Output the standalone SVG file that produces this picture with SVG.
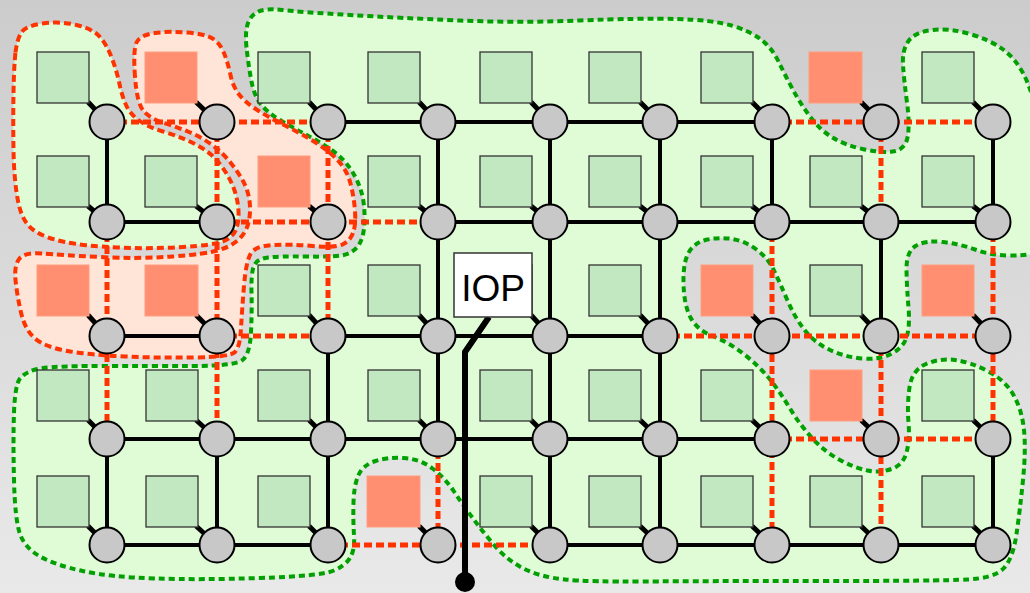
<svg xmlns="http://www.w3.org/2000/svg" width="1030" height="593" viewBox="0 0 1030 593">
<defs>
<linearGradient id="bg" x1="0" y1="0" x2="0" y2="1">
<stop offset="0" stop-color="#cccccc"/>
<stop offset="1" stop-color="#e9e9e9"/>
</linearGradient>
<style>
.gz{fill:#e0fcd6;stroke:#00a000;stroke-width:4;stroke-dasharray:6 4}
.rzg{fill:#e0fcd6;stroke:#ff3300;stroke-width:4;stroke-dasharray:7 4}
.rzp{fill:#ffe4d8;stroke:#ff3300;stroke-width:4;stroke-dasharray:7 4}
.lb{stroke:#000;stroke-width:4;fill:none}
.lr{stroke:#ff3300;stroke-width:5;stroke-dasharray:8 4;fill:none}
.stub{stroke:#000;stroke-width:5}
.tile{fill:#c1e8c1;stroke:#333;stroke-width:1.3}
.rtile{fill:#ff8f70;stroke:#ff9d80;stroke-width:1}
.node{fill:#c8c8c8;stroke:#000;stroke-width:2}
.wire{stroke:#000;stroke-width:6;fill:none;stroke-linejoin:miter}
.lbl{font-family:"Liberation Sans",Arial,sans-serif;font-size:37px;fill:#000}
</style>
</defs>
<rect x="0" y="0" width="1030" height="593" fill="url(#bg)"/>
<g id="regions">
<g id="region-green">
<path class="gz" d="M246.5,47.5 Q245,33 247.5,24.5 T257.5,12 T282.5,10 T350,15 T460,20.5 T580,20.5 T676.5,19 T731.5,25.5 T761,39.5 T778.5,61.5 T792.5,89 T810,116.5 T832.5,137.5 T862.5,149 T892.5,151.5 T907.5,137.5 T907,102.5 T903,65 T908.5,41 T932.5,30 T970,34 T1002.5,49 T1023.5,74 T1038.5,120 T1045,200 T1035,253 T1007.5,255.5 T975,249.5 T942.5,242 T915.5,246 T906.5,271 T908.5,307.5 T907,336 T892,353.5 T862.5,358.5 T830,350 T805,330.5 T787.5,300.5 T774,270.5 T756.5,249.5 T732.5,239 T707.5,239.5 T689,252 T683.5,283.5 T690.5,317.5 T713.5,336.5 T745,355 T770,379.5 T790,408.5 T812.5,438.5 T840,460 T867.5,470.5 T891.5,469 T906.5,452.5 T908.5,422.5 T909.5,387.5 T926,364 T955,360 T987.5,371 T1013.5,395 T1024,430 T1023,480 T1016.5,534 T1004,568 T967.5,579.5 T820,581 T645,581.5 T565,579.5 T523.5,568.5 T495,546 T473,518.5 T454,491.5 T432.5,468.5 T404,458 T375.5,461 T358.5,475 T353.5,502.5 T354,535 T350,558 T332.5,571 T260,578 T155,578.5 T82.5,571 T40,556.5 T20,534 T14,480 T14,412.5 T20,378.5 T37.5,369 T100,366 T192.5,366 T242.5,360 T251,332 T251.5,292.5 T253.5,267 T268,257.5 T305,256.5 T341,255.5 T358,246 T364.5,221.5 T361.5,192.5 T350.5,169 T331.5,150 T307.5,135.5 T281.5,121 T261,104.5 T251,79 T246.5,47.5 Z"/>
</g>
<g id="region-red-pink">
<path class="rzp" d="M135,77 Q133,50 136.5,42.5 T155,33 T187.5,32.5 T212.5,38.5 T224,53 T230.5,75 T239.5,95 T258,110.5 T285,125.5 T314,141.5 T337.5,160 T350.5,183.5 T355,211 T353,233 T342.5,244.5 T312.5,246 T272.5,245 T250.5,254 T244,286 T241,328.5 T235,352 T195,357.5 T125,356.5 T67.5,351 T35,338.5 T21,312.5 T15.5,280 T19.5,258.5 T42.5,253.5 T100,257 T172.5,256.5 T217.5,250.5 T238,240 T248.5,222.5 T249.5,201 T243,181 T230,162 T211.5,144.5 T189,132 T164,123 T144,111.5 T135,77 Z"/>
</g>
<g id="region-red-green">
<path class="rzg" d="M15.5,52.5 Q17,40 21,33 T42.5,23.5 T76.5,25 T100,37 T112,58.5 T119.5,84 T126,105 T139,120.5 T161.5,131 T186.5,140 T206.5,151 T222.5,167.5 T234,189 T238.5,211 T236,229.5 T224,241 T182.5,247 T117.5,247.5 T65,242 T33.5,230 T18,201 T13.5,150 T13.5,92.5 T15.5,52.5 Z"/>
</g>
</g>
<g id="connectors">
<line class="lb" x1="328" y1="122" x2="772" y2="122"/>
<line class="lb" x1="107" y1="222" x2="217" y2="222"/>
<line class="lb" x1="438" y1="222" x2="993" y2="222"/>
<line class="lb" x1="107" y1="336" x2="217" y2="336"/>
<line class="lb" x1="328" y1="336" x2="660" y2="336"/>
<line class="lb" x1="107" y1="439" x2="772" y2="439"/>
<line class="lb" x1="107" y1="545" x2="328" y2="545"/>
<line class="lb" x1="550" y1="545" x2="993" y2="545"/>
<line class="lb" x1="107" y1="122" x2="107" y2="222"/>
<line class="lb" x1="107" y1="439" x2="107" y2="545"/>
<line class="lb" x1="217" y1="439" x2="217" y2="545"/>
<line class="lb" x1="328" y1="336" x2="328" y2="545"/>
<line class="lb" x1="438" y1="122" x2="438" y2="439"/>
<line class="lb" x1="550" y1="122" x2="550" y2="545"/>
<line class="lb" x1="660" y1="122" x2="660" y2="545"/>
<line class="lb" x1="772" y1="122" x2="772" y2="222"/>
<line class="lb" x1="881" y1="222" x2="881" y2="336"/>
<line class="lb" x1="993" y1="122" x2="993" y2="222"/>
<line class="lb" x1="993" y1="439" x2="993" y2="545"/>
<line class="lr" x1="107" y1="122" x2="328" y2="122"/>
<line class="lr" x1="772" y1="122" x2="993" y2="122"/>
<line class="lr" x1="217" y1="222" x2="438" y2="222"/>
<line class="lr" x1="217" y1="336" x2="328" y2="336"/>
<line class="lr" x1="660" y1="336" x2="993" y2="336"/>
<line class="lr" x1="772" y1="439" x2="993" y2="439"/>
<line class="lr" x1="328" y1="545" x2="550" y2="545"/>
<line class="lr" x1="107" y1="222" x2="107" y2="439"/>
<line class="lr" x1="217" y1="122" x2="217" y2="439"/>
<line class="lr" x1="328" y1="122" x2="328" y2="336"/>
<line class="lr" x1="438" y1="439" x2="438" y2="545"/>
<line class="lr" x1="772" y1="222" x2="772" y2="545"/>
<line class="lr" x1="881" y1="122" x2="881" y2="222"/>
<line class="lr" x1="881" y1="336" x2="881" y2="545"/>
<line class="lr" x1="993" y1="222" x2="993" y2="439"/>
<polyline class="wire" points="489,317 465,352 465,582"/>
<circle cx="465" cy="582" r="10" fill="#000"/>
</g>
<g id="n-0-0"><line class="stub" x1="88" y1="102" x2="107" y2="122"/><rect class="tile" x="37" y="52" width="52" height="51"/><circle class="node" cx="107" cy="122" r="17.5"/></g>
<g id="n-0-1"><line class="stub" x1="196" y1="102" x2="217" y2="122"/><rect class="rtile" x="145" y="52" width="52" height="51"/><circle class="node" cx="217" cy="122" r="17.5"/></g>
<g id="n-0-2"><line class="stub" x1="309" y1="102" x2="328" y2="122"/><rect class="tile" x="258" y="52" width="52" height="51"/><circle class="node" cx="328" cy="122" r="17.5"/></g>
<g id="n-0-3"><line class="stub" x1="419" y1="102" x2="438" y2="122"/><rect class="tile" x="368" y="52" width="52" height="51"/><circle class="node" cx="438" cy="122" r="17.5"/></g>
<g id="n-0-4"><line class="stub" x1="531" y1="102" x2="550" y2="122"/><rect class="tile" x="480" y="52" width="52" height="51"/><circle class="node" cx="550" cy="122" r="17.5"/></g>
<g id="n-0-5"><line class="stub" x1="640" y1="102" x2="660" y2="122"/><rect class="tile" x="589" y="52" width="52" height="51"/><circle class="node" cx="660" cy="122" r="17.5"/></g>
<g id="n-0-6"><line class="stub" x1="752" y1="102" x2="772" y2="122"/><rect class="tile" x="701" y="52" width="52" height="51"/><circle class="node" cx="772" cy="122" r="17.5"/></g>
<g id="n-0-7"><line class="stub" x1="861" y1="102" x2="881" y2="122"/><rect class="rtile" x="809" y="52" width="53" height="51"/><circle class="node" cx="881" cy="122" r="17.5"/></g>
<g id="n-0-8"><line class="stub" x1="973" y1="102" x2="993" y2="122"/><rect class="tile" x="922" y="52" width="52" height="51"/><circle class="node" cx="993" cy="122" r="17.5"/></g>
<g id="n-1-0"><line class="stub" x1="88" y1="206" x2="107" y2="222"/><rect class="tile" x="37" y="156" width="52" height="51"/><circle class="node" cx="107" cy="222" r="17.5"/></g>
<g id="n-1-1"><line class="stub" x1="196" y1="206" x2="217" y2="222"/><rect class="tile" x="145" y="156" width="52" height="51"/><circle class="node" cx="217" cy="222" r="17.5"/></g>
<g id="n-1-2"><line class="stub" x1="309" y1="206" x2="328" y2="222"/><rect class="rtile" x="258" y="156" width="52" height="51"/><circle class="node" cx="328" cy="222" r="17.5"/></g>
<g id="n-1-3"><line class="stub" x1="419" y1="206" x2="438" y2="222"/><rect class="tile" x="368" y="156" width="52" height="51"/><circle class="node" cx="438" cy="222" r="17.5"/></g>
<g id="n-1-4"><line class="stub" x1="531" y1="206" x2="550" y2="222"/><rect class="tile" x="480" y="156" width="52" height="51"/><circle class="node" cx="550" cy="222" r="17.5"/></g>
<g id="n-1-5"><line class="stub" x1="640" y1="206" x2="660" y2="222"/><rect class="tile" x="589" y="156" width="52" height="51"/><circle class="node" cx="660" cy="222" r="17.5"/></g>
<g id="n-1-6"><line class="stub" x1="752" y1="206" x2="772" y2="222"/><rect class="tile" x="701" y="156" width="52" height="51"/><circle class="node" cx="772" cy="222" r="17.5"/></g>
<g id="n-1-7"><line class="stub" x1="861" y1="206" x2="881" y2="222"/><rect class="tile" x="810" y="156" width="52" height="51"/><circle class="node" cx="881" cy="222" r="17.5"/></g>
<g id="n-1-8"><line class="stub" x1="973" y1="206" x2="993" y2="222"/><rect class="tile" x="922" y="156" width="52" height="51"/><circle class="node" cx="993" cy="222" r="17.5"/></g>
<g id="n-2-0"><line class="stub" x1="88" y1="315" x2="107" y2="336"/><rect class="rtile" x="37" y="265" width="52" height="51"/><circle class="node" cx="107" cy="336" r="17.5"/></g>
<g id="n-2-1"><line class="stub" x1="196" y1="315" x2="217" y2="336"/><rect class="rtile" x="145" y="265" width="53" height="51"/><circle class="node" cx="217" cy="336" r="17.5"/></g>
<g id="n-2-2"><line class="stub" x1="309" y1="315" x2="328" y2="336"/><rect class="tile" x="258" y="265" width="52" height="51"/><circle class="node" cx="328" cy="336" r="17.5"/></g>
<g id="n-2-3"><line class="stub" x1="419" y1="315" x2="438" y2="336"/><rect class="tile" x="368" y="265" width="52" height="51"/><circle class="node" cx="438" cy="336" r="17.5"/></g>
<g id="n-2-4"><line class="stub" x1="531" y1="315" x2="550" y2="336"/><rect class="tile" x="480" y="265" width="52" height="51"/><circle class="node" cx="550" cy="336" r="17.5"/></g>
<g id="n-2-5"><line class="stub" x1="640" y1="315" x2="660" y2="336"/><rect class="tile" x="589" y="265" width="52" height="51"/><circle class="node" cx="660" cy="336" r="17.5"/></g>
<g id="n-2-6"><line class="stub" x1="752" y1="315" x2="772" y2="336"/><rect class="rtile" x="701" y="265" width="52" height="51"/><circle class="node" cx="772" cy="336" r="17.5"/></g>
<g id="n-2-7"><line class="stub" x1="861" y1="315" x2="881" y2="336"/><rect class="tile" x="810" y="265" width="52" height="51"/><circle class="node" cx="881" cy="336" r="17.5"/></g>
<g id="n-2-8"><line class="stub" x1="973" y1="315" x2="993" y2="336"/><rect class="rtile" x="922" y="265" width="52" height="51"/><circle class="node" cx="993" cy="336" r="17.5"/></g>
<g id="n-3-0"><line class="stub" x1="88" y1="420" x2="107" y2="439"/><rect class="tile" x="37" y="370" width="52" height="51"/><circle class="node" cx="107" cy="439" r="17.5"/></g>
<g id="n-3-1"><line class="stub" x1="196" y1="420" x2="217" y2="439"/><rect class="tile" x="146" y="370" width="52" height="51"/><circle class="node" cx="217" cy="439" r="17.5"/></g>
<g id="n-3-2"><line class="stub" x1="309" y1="420" x2="328" y2="439"/><rect class="tile" x="258" y="370" width="52" height="51"/><circle class="node" cx="328" cy="439" r="17.5"/></g>
<g id="n-3-3"><line class="stub" x1="419" y1="420" x2="438" y2="439"/><rect class="tile" x="368" y="370" width="52" height="51"/><circle class="node" cx="438" cy="439" r="17.5"/></g>
<g id="n-3-4"><line class="stub" x1="531" y1="420" x2="550" y2="439"/><rect class="tile" x="480" y="370" width="52" height="51"/><circle class="node" cx="550" cy="439" r="17.5"/></g>
<g id="n-3-5"><line class="stub" x1="640" y1="420" x2="660" y2="439"/><rect class="tile" x="589" y="370" width="52" height="51"/><circle class="node" cx="660" cy="439" r="17.5"/></g>
<g id="n-3-6"><line class="stub" x1="752" y1="420" x2="772" y2="439"/><rect class="tile" x="701" y="370" width="52" height="51"/><circle class="node" cx="772" cy="439" r="17.5"/></g>
<g id="n-3-7"><line class="stub" x1="861" y1="420" x2="881" y2="439"/><rect class="rtile" x="810" y="370" width="52" height="51"/><circle class="node" cx="881" cy="439" r="17.5"/></g>
<g id="n-3-8"><line class="stub" x1="973" y1="420" x2="993" y2="439"/><rect class="tile" x="922" y="370" width="52" height="51"/><circle class="node" cx="993" cy="439" r="17.5"/></g>
<g id="n-4-0"><line class="stub" x1="88" y1="526" x2="107" y2="545"/><rect class="tile" x="37" y="476" width="52" height="51"/><circle class="node" cx="107" cy="545" r="17.5"/></g>
<g id="n-4-1"><line class="stub" x1="196" y1="526" x2="217" y2="545"/><rect class="tile" x="146" y="476" width="52" height="51"/><circle class="node" cx="217" cy="545" r="17.5"/></g>
<g id="n-4-2"><line class="stub" x1="309" y1="526" x2="328" y2="545"/><rect class="tile" x="258" y="476" width="52" height="51"/><circle class="node" cx="328" cy="545" r="17.5"/></g>
<g id="n-4-3"><line class="stub" x1="419" y1="526" x2="438" y2="545"/><rect class="rtile" x="367" y="476" width="53" height="51"/><circle class="node" cx="438" cy="545" r="17.5"/></g>
<g id="n-4-4"><line class="stub" x1="531" y1="526" x2="550" y2="545"/><rect class="tile" x="480" y="476" width="52" height="51"/><circle class="node" cx="550" cy="545" r="17.5"/></g>
<g id="n-4-5"><line class="stub" x1="640" y1="526" x2="660" y2="545"/><rect class="tile" x="589" y="476" width="52" height="51"/><circle class="node" cx="660" cy="545" r="17.5"/></g>
<g id="n-4-6"><line class="stub" x1="752" y1="526" x2="772" y2="545"/><rect class="tile" x="701" y="476" width="52" height="51"/><circle class="node" cx="772" cy="545" r="17.5"/></g>
<g id="n-4-7"><line class="stub" x1="861" y1="526" x2="881" y2="545"/><rect class="tile" x="810" y="476" width="52" height="51"/><circle class="node" cx="881" cy="545" r="17.5"/></g>
<g id="n-4-8"><line class="stub" x1="973" y1="526" x2="993" y2="545"/><rect class="tile" x="922" y="476" width="52" height="51"/><circle class="node" cx="993" cy="545" r="17.5"/></g>
<g id="iop">
<rect x="454" y="253" width="78" height="64" fill="#fff" stroke="#333" stroke-width="1.5"/>
<text class="lbl" x="493" y="301" text-anchor="middle">IOP</text>
</g>
</svg>
